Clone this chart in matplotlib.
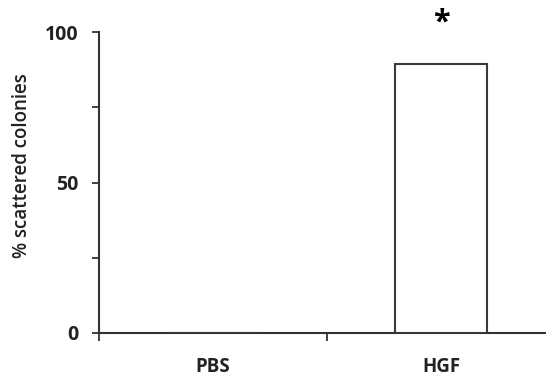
import matplotlib
matplotlib.use("Agg")
import matplotlib.pyplot as plt
from matplotlib.ticker import FixedLocator

categories = ["PBS", "HGF"]
values = [0, 89.5]
y_ticks = [0, 50, 100]
y_minor = [25, 75]
ylabel = "% scattered colonies"
sig_marks = ["", "*"]

plt.rcParams['font.family'] = ['Open Sans', 'DejaVu Sans']

fig = plt.figure(figsize=(5.46, 3.77), dpi=100)
ax = fig.add_axes([99/546, 44/377, 456/546, 301/377])

axis_col = "#333333"
x = list(range(len(categories)))
ax.bar(x, values, width=0.4, facecolor="white", edgecolor="#3a3a3a", linewidth=1.5, zorder=3)

ax.set_xlim(-0.5, len(categories) - 0.5)
ax.set_ylim(0, 100)

for s in ["top", "right"]:
    ax.spines[s].set_visible(False)
for s in ["left", "bottom"]:
    ax.spines[s].set_color(axis_col)
    ax.spines[s].set_linewidth(1.5)

ax.set_yticks(y_ticks)
ax.set_yticklabels([str(t) for t in y_ticks], fontsize=14, fontweight="bold", color="#222222")
ax.yaxis.set_minor_locator(FixedLocator(y_minor))
ax.tick_params(axis="y", which="both", direction="out", length=5, width=1.3, color=axis_col, pad=10)

ax.set_xticks([i - 0.5 for i in range(len(categories) + 1)])
ax.set_xticklabels([""] * (len(categories) + 1))
ax.set_xticks(x, minor=True)
ax.set_xticklabels(categories, minor=True, fontsize=13.5, fontweight="bold", color="#222222")
ax.tick_params(axis="x", which="major", direction="out", length=6, width=1.3, color=axis_col)
ax.tick_params(axis="x", which="minor", length=0, pad=17)

ax.set_ylabel(ylabel, fontsize=13.5, fontweight="semibold", color="#222222")
ax.yaxis.set_label_coords(-0.147, 0.555)

for xi, v, m in zip(x, values, sig_marks):
    if m:
        ax.text(xi, 103, m, ha="center", va="center", fontsize=22, fontweight="bold", clip_on=False)

fig.savefig("out.png", dpi=100)
